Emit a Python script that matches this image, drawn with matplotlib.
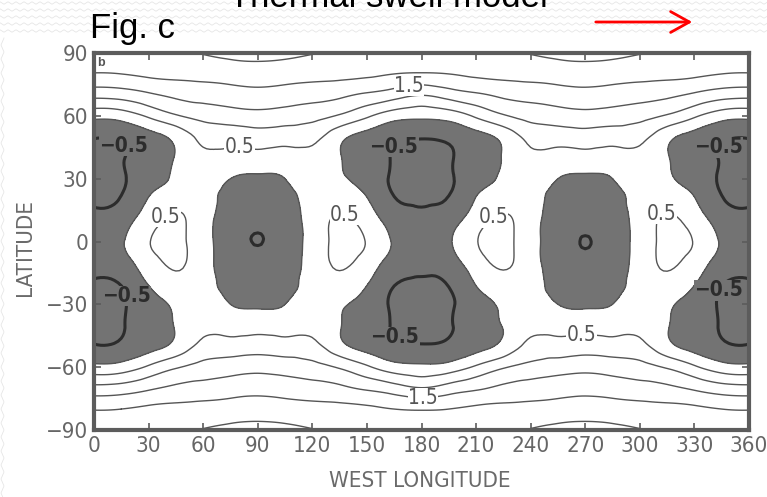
import numpy as np
import matplotlib
matplotlib.use("Agg")
import matplotlib.pyplot as plt
import matplotlib.tri as mtri
from matplotlib import font_manager
from matplotlib.patches import FancyArrowPatch
from matplotlib.lines import Line2D

# digitised field, northern half, 0-180 W (mirrored for the rest)
lon_half = [0, 15, 30, 45, 60, 75, 90, 105, 120, 135, 150, 165, 180]
lat_half = [0, 10, 20, 30, 40, 50, 60, 70, 80, 90]
field_north = [
    [-0.20, -0.05, 0.47, 0.62, 0.20, -0.30, -0.51, -0.30, 0.20, 0.62, 0.47, -0.05, -0.20],
    [-0.35, -0.20, 0.29, 0.56, 0.22, -0.28, -0.43, -0.28, 0.22, 0.56, 0.29, -0.20, -0.35],
    [-0.55, -0.47, 0.03, 0.34, 0.22, -0.20, -0.32, -0.20, 0.22, 0.34, 0.03, -0.47, -0.55],
    [-0.63, -0.56, -0.20, 0.08, 0.25, 0.00, -0.08, 0.00, 0.25, 0.08, -0.20, -0.56, -0.63],
    [-0.60, -0.53, -0.28, 0.03, 0.38, 0.30, 0.32, 0.30, 0.38, 0.03, -0.28, -0.53, -0.60],
    [-0.47, -0.42, -0.18, 0.15, 0.65, 0.72, 0.78, 0.72, 0.65, 0.15, -0.18, -0.42, -0.47],
    [0.15, 0.22, 0.58, 0.95, 1.17, 1.27, 1.34, 1.27, 1.17, 0.95, 0.58, 0.22, 0.12],
    [1.16, 1.22, 1.42, 1.60, 1.70, 1.78, 1.84, 1.78, 1.70, 1.60, 1.42, 1.22, 1.02],
    [1.97, 2.00, 2.10, 2.15, 2.17, 2.22, 2.26, 2.22, 2.17, 2.15, 2.10, 2.00, 1.96],
    [2.40, 2.42, 2.45, 2.46, 2.52, 2.62, 2.66, 2.62, 2.52, 2.46, 2.45, 2.42, 2.38],
]

lev_fill = [-5, 0]
lev_plain = [0, 1.0, 2.0, 2.5]

xticks = [0, 30, 60, 90, 120, 150, 180, 210, 240, 270, 300, 330, 360]
yticks = [90, 60, 30, 0, -30, -60, -90]
ytick_labels = ["90", "60", "30", "0", "\u221230", "\u221260", "\u221290"]

# label spots on the contours
pos_05 = [(80, 44), (268, -45), (38, 13), (138, 13), (218, 13), (312, 13)]
pos_15 = [(173, 75), (181, -77)]
pos_m05 = [(12, 43), (12, -27), (164, 46), (164, -47), (343, 45), (345, -24)]

# fonts
names = {f.name for f in font_manager.fontManager.ttflist}
narrow = "Liberation Sans Narrow" if "Liberation Sans Narrow" in names else "DejaVu Sans"
plain = "Liberation Sans" if "Liberation Sans" in names else "DejaVu Sans"
plt.rcParams["font.family"] = narrow
if narrow == "DejaVu Sans":
    plt.rcParams["font.stretch"] = "condensed"

# full grid
fn = np.array(field_north)
full_lon = np.concatenate([fn, fn[:, -2::-1]], axis=1)
z = np.concatenate([full_lon[:0:-1], full_lon], axis=0)
lons = np.concatenate([lon_half, 360 - np.array(lon_half[-2::-1])])
lats = np.concatenate([-np.array(lat_half[:0:-1]), lat_half])
X, Y = np.meshgrid(lons, lats)
tri = mtri.Triangulation(X.ravel(), Y.ravel())
refiner = mtri.UniformTriRefiner(tri)
tri_f, z_f = refiner.refine_field(z.ravel(), subdiv=3)

W, H = 767, 497
fig = plt.figure(figsize=(W / 100, H / 100), dpi=100)
fig.patch.set_facecolor("white")

# faint zigzag paper texture above and left of the scan
zx = np.arange(0, W + 8, 4)
for row in range(3, 38, 7):
    zy = row + np.where((zx // 4) % 2 == 0, -1.2, 1.2)
    fig.add_artist(Line2D(zx / W, 1 - zy / H, transform=fig.transFigure,
                          color="#e6e6e6", lw=0.6, zorder=0))
zy2 = np.arange(38, H + 8, 7)
zx2 = 2.5 + np.where((zy2 // 7) % 2 == 0, -1.5, 1.5)
fig.add_artist(Line2D(zx2 / W, 1 - zy2 / H, transform=fig.transFigure,
                      color="#e6e6e6", lw=0.6, zorder=0))

ax = fig.add_axes([94 / W, 1 - 430 / H, 655 / W, 377 / H])
ax.set_facecolor("white")

shade = "#737373"
line_c = "#555555"
bold_c = "#2c2c2c"
ax.tricontourf(tri_f, z_f, levels=lev_fill, colors=[shade])
ax.tricontour(tri_f, z_f, levels=lev_plain, colors=line_c, linewidths=1.0, linestyles="solid")
cs05 = ax.tricontour(tri_f, z_f, levels=[0.5], colors=line_c, linewidths=1.0, linestyles="solid")
cs15 = ax.tricontour(tri_f, z_f, levels=[1.5], colors=line_c, linewidths=1.0, linestyles="solid")
csm05 = ax.tricontour(tri_f, z_f, levels=[-0.5], colors=bold_c, linewidths=2.2, linestyles="solid")

# labels sit on a patch of the local background, which breaks the line under them
thin_lbl = list(ax.clabel(cs05, manual=pos_05, fmt={0.5: "0.5"}, fontsize=15, inline=False,
                          colors=line_c))
thin_lbl += list(ax.clabel(cs15, manual=pos_15, fmt={1.5: "1.5"}, fontsize=15, inline=False,
                           colors=line_c))
bold_lbl = ax.clabel(csm05, manual=pos_m05, fmt={-0.5: "\u22120.5"}, fontsize=15, inline=False,
                     colors=bold_c)
for t in thin_lbl:
    t.set_rotation(0)
    t.set_bbox(dict(facecolor="white", edgecolor="none", pad=0.3))
for t in bold_lbl:
    t.set_rotation(0)
    t.set_fontweight("bold")
    t.set_bbox(dict(facecolor=shade, edgecolor="none", pad=0.3))

ax.set_xlim(0, 360)
ax.set_ylim(-90, 90)
ax.set_xticks(xticks)
ax.set_yticks(yticks)
ax.set_yticklabels(ytick_labels)
ax.tick_params(direction="in", length=5, width=1.2, color="#5c5c5c", top=True, right=True,
               labelsize=16, labelcolor="#666666", pad=4)
for s in ax.spines.values():
    s.set_linewidth(3)
    s.set_color("#5c5c5c")
    s.set_zorder(5)

fig.text(420 / W, 1 - 481 / H, "WEST LONGITUDE", ha="center", va="center",
         fontsize=16, color="#6a6a6a")
fig.text(25 / W, 1 - 248 / H, "LATITUDE", ha="center", va="center", rotation=90,
         fontsize=16, color="#6a6a6a")
ax.text(2, 88, "b", fontsize=9, fontweight="bold", color="#555555", va="top", family=plain)

fig.text(388 / W, 1 - 7 / H, "Thermal swell model", ha="center", va="baseline",
         fontsize=25, family=plain, color="black")
fig.text(90 / W, 1 - 38 / H, "Fig. c", ha="left", va="baseline",
         fontsize=25, family=plain, color="black")

arrow = FancyArrowPatch((593 / W, 1 - 22 / H), (695 / W, 1 - 22 / H),
                        transform=fig.transFigure, arrowstyle="->,head_length=0.9,head_width=0.5",
                        mutation_scale=15, color="red", lw=2)
fig.add_artist(arrow)

fig.savefig("out.png", dpi=100)
